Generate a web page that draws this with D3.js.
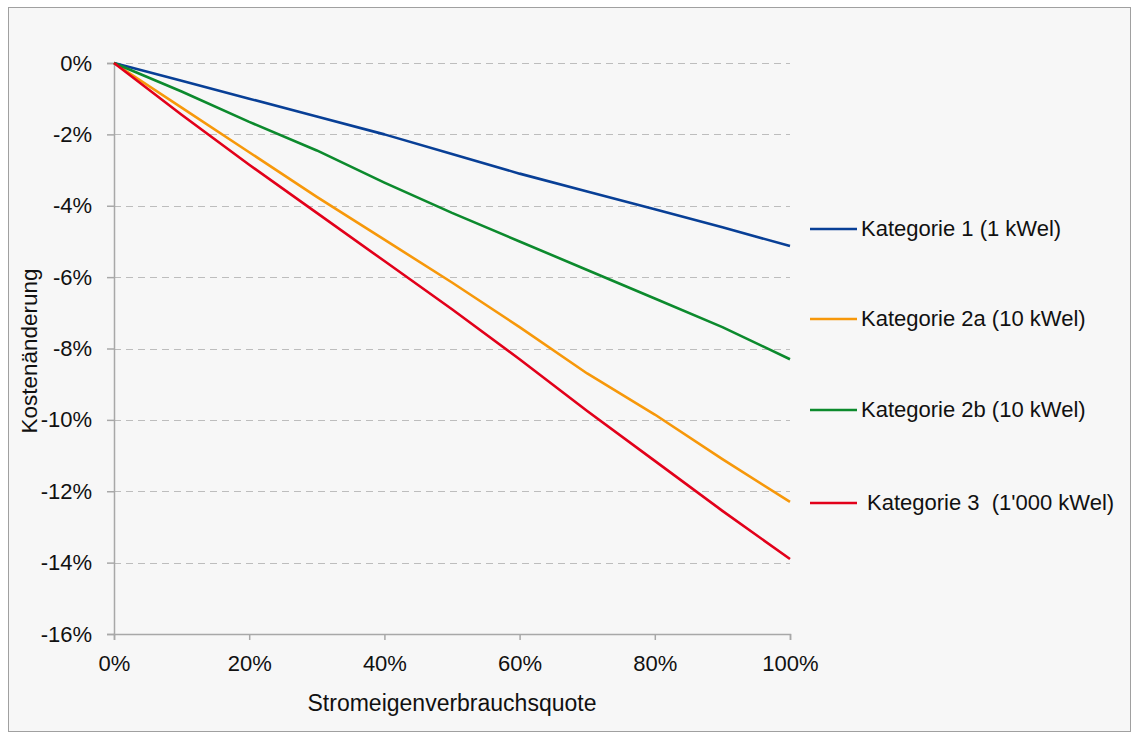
<!DOCTYPE html>
<html>
<head>
<meta charset="utf-8">
<script src="https://cdn.jsdelivr.net/npm/d3@7"></script>
<style>
    body { margin: 0; background: #fff; }
    text { font-family: "Liberation Sans", Arial, sans-serif; fill: #111; }
</style>
</head>
<body>
<div id="visualization"></div>
<script>
// Data
const quoten = [0, 0.1, 0.2, 0.3, 0.4, 0.5, 0.6, 0.7, 0.8, 0.9, 1.0];
const kat1 = [0, -0.005, -0.010, -0.015, -0.020, -0.0255, -0.031, -0.036, -0.041, -0.046, -0.0513];
const kat2a = [0, -0.0125, -0.025, -0.0375, -0.0495, -0.0615, -0.074, -0.087, -0.0985, -0.111, -0.123];
const kat2b = [0, -0.008, -0.0165, -0.0245, -0.0335, -0.042, -0.050, -0.058, -0.066, -0.074, -0.083];
const kat3 = [0, -0.0145, -0.0285, -0.042, -0.0555, -0.069, -0.083, -0.0975, -0.1115, -0.1255, -0.139];
const seriesNames = ["Kategorie 1 (1 kWel)", "Kategorie 2a (10 kWel)", "Kategorie 2b (10 kWel)", "Kategorie 3  (1'000 kWel)"];
const seriesColors = ["#083f96", "#f7980a", "#0c8a2d", "#e2001a"];
const yTicks = [0, -0.02, -0.04, -0.06, -0.08, -0.10, -0.12, -0.14, -0.16];
const xTicks = [0, 0.2, 0.4, 0.6, 0.8, 1.0];

const allSeries = [kat1, kat2a, kat2b, kat3];

const svg = d3.select("#visualization").append("svg")
    .attr("width", 1133)
    .attr("height", 734);

// frame
svg.append("rect")
    .attr("x", 8.5).attr("y", 7.5)
    .attr("width", 1122).attr("height", 724)
    .attr("fill", "#f7f7f7")
    .attr("stroke", "#a0a0a0");

const x = d3.scaleLinear().domain([0, 1]).range([114, 790]);
const y = d3.scaleLinear().domain([-0.16, 0]).range([634, 63]);

// grid lines
svg.append("g").selectAll("line")
    .data(yTicks.filter(d => d !== -0.16))
    .join("line")
    .attr("x1", x(0)).attr("x2", x(1))
    .attr("y1", d => Math.round(y(d)) + 0.5).attr("y2", d => Math.round(y(d)) + 0.5)
    .attr("stroke", "#bdbdbd")
    .attr("stroke-width", 1.2)
    .attr("stroke-dasharray", "7,5");

// plain hyphen for negatives, like the original
const pct = d => Math.round(d * 100) + "%";

// y axis
const yAxis = svg.append("g")
    .attr("transform", `translate(${x(0)},0)`)
    .call(d3.axisLeft(y).tickValues(yTicks).tickFormat(pct).tickSize(7).tickPadding(15));
// x axis
const xAxis = svg.append("g")
    .attr("transform", `translate(0,${y(-0.16)})`)
    .call(d3.axisBottom(x).tickValues(xTicks).tickFormat(pct).tickSize(6).tickPadding(15));

[yAxis, xAxis].forEach(a => {
    a.select(".domain").attr("stroke", "#a8a8a8").attr("stroke-width", 1.5);
    a.selectAll(".tick line").attr("stroke", "#a8a8a8").attr("stroke-width", 1.5);
    a.selectAll(".tick text").style("font-size", "22px").attr("fill", "#111")
        .style("font-family", "'Liberation Sans', Arial, sans-serif");
});

// lines
const line = d3.line()
    .x((d, i) => x(quoten[i]))
    .y(d => y(d));

allSeries.forEach((s, i) => {
    svg.append("path")
        .datum(s)
        .attr("fill", "none")
        .attr("stroke", seriesColors[i])
        .attr("stroke-width", 2.6)
        .attr("stroke-linejoin", "round")
        .attr("d", line);
});

// axis titles
svg.append("text")
    .attr("x", 452)
    .attr("y", 711)
    .attr("text-anchor", "middle")
    .style("font-size", "23px")
    .text("Stromeigenverbrauchsquote");

svg.append("text")
    .attr("transform", "rotate(-90)")
    .attr("x", -351)
    .attr("y", 37)
    .attr("text-anchor", "middle")
    .style("font-size", "22.5px")
    .text("Kostenänderung");

// legend
const legendY = [229, 319, 410, 503];
const legend = svg.append("g");
seriesNames.forEach((name, i) => {
    legend.append("line")
        .attr("x1", 810).attr("x2", 857)
        .attr("y1", legendY[i]).attr("y2", legendY[i])
        .attr("stroke", seriesColors[i])
        .attr("stroke-width", 2.6);
    legend.append("text")
        .attr("x", i === 3 ? 867 : 861)
        .attr("y", legendY[i] + 7)
        .style("font-size", "22px")
        .style("white-space", "pre")
        .text(name);
});
</script>
</body>
</html>
